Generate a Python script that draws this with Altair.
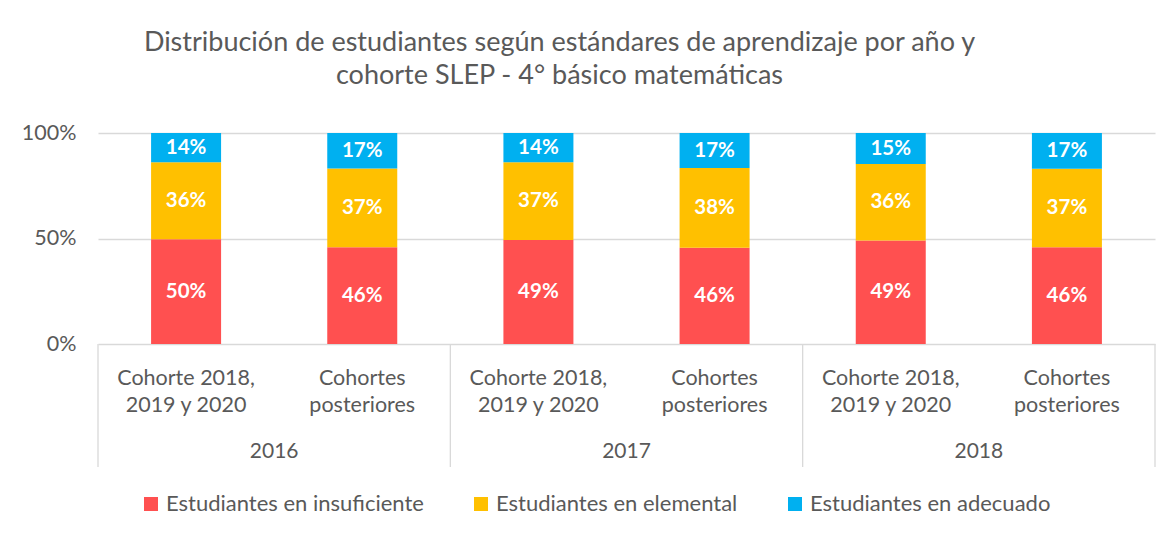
import altair as alt
import pandas as pd

years = ["2016", "2017", "2018"]
cohorts = ["Cohorte 2018,\n2019 y 2020", "Cohortes\nposteriores"]
levels = ["Estudiantes en insuficiente", "Estudiantes en elemental", "Estudiantes en adecuado"]
colors = ["#FF5050", "#FFC000", "#00B0F0"]

# order: 2016 C1, 2016 C2, 2017 C1, 2017 C2, 2018 C1, 2018 C2
insuficiente = [0.497, 0.459, 0.493, 0.456, 0.490, 0.459]
elemental = [0.364, 0.373, 0.368, 0.378, 0.363, 0.371]
adecuado = [0.139, 0.168, 0.139, 0.166, 0.147, 0.170]

rows = []
keys = []
for yi, yr in enumerate(years):
    for ci, co in enumerate(cohorts):
        k = f"{yr}-{ci}"
        keys.append(k)
        idx = yi * 2 + ci
        for li, (lev, vals) in enumerate(zip(levels, [insuficiente, elemental, adecuado])):
            rows.append(dict(key=k, year=yr, cohort=co, level=lev, order=li, value=vals[idx]))
df = pd.DataFrame(rows)
cat_df = df[df.order == 0].reset_index(drop=True)
first_df = cat_df.iloc[::2].reset_index(drop=True)
last_df = cat_df.iloc[[-1]].reset_index(drop=True)

W, H = 1057, 211
FONT = "Lato"
GRAY = "#595959"
LINE = "#D9D9D9"

xscale = alt.Scale(domain=keys, paddingInner=0, paddingOuter=0)


def X(bp=None):
    if bp is None:
        return alt.X("key:N", scale=xscale, sort=keys, axis=None)
    return alt.X("key:N", scale=xscale, sort=keys, axis=None, bandPosition=bp)


yaxis = alt.Axis(values=[0, 0.5, 1], format=".0%", grid=True, gridColor=LINE,
                 gridWidth=1.3, domain=False, ticks=False, labelPadding=22,
                 labelFontSize=21.5, labelColor=GRAY, labelFont=FONT, title=None)

base = alt.Chart(df).transform_stack(
    stack="value", groupby=["key"], as_=["v0", "v1"],
    sort=[alt.SortField("order", order="ascending")]
).transform_calculate(mid="(datum.v0 + datum.v1) / 2")

bars = base.mark_bar(size=70).encode(
    x=X(),
    y=alt.Y("v0:Q", scale=alt.Scale(domain=[0, 1]), axis=yaxis),
    y2="v1:Q",
    color=alt.Color("level:N", scale=alt.Scale(domain=levels, range=colors),
                    legend=alt.Legend(orient="none", legendX=42, legendY=360,
                                      direction="horizontal", title=None,
                                      symbolType="square", symbolSize=196,
                                      symbolStrokeWidth=0, symbolOpacity=1,
                                      labelFontSize=22, labelFont=FONT,
                                      labelColor=GRAY, columnPadding=46,
                                      labelOffset=4, labelLimit=0, padding=0)),
)

labels = base.mark_text(color="white", fontWeight="bold", fontSize=20.5, font=FONT).encode(
    x=X(),
    y=alt.Y("mid:Q", scale=alt.Scale(domain=[0, 1])),
    text=alt.Text("value:Q", format=".0%"),
)

cat_text = alt.Chart(cat_df).mark_text(
    lineBreak="\n", lineHeight=27, baseline="alphabetic", fontSize=21.5,
    color=GRAY, font=FONT
).encode(x=X(), y=alt.value(H + 41), text="cohort:N")

year_text = alt.Chart(first_df).mark_text(
    baseline="alphabetic", fontSize=21, color=GRAY, font=FONT
).encode(x=X(1), y=alt.value(H + 114), text="year:N")

sep_first = alt.Chart(first_df).mark_rule(color=LINE, strokeWidth=1.3).encode(
    x=X(0), y=alt.value(H), y2=alt.value(H + 123))
sep_last = alt.Chart(last_df).mark_rule(color=LINE, strokeWidth=1.3).encode(
    x=X(1), y=alt.value(H), y2=alt.value(H + 123))

chart = alt.layer(bars, labels, cat_text, year_text, sep_first, sep_last).properties(
    width=W, height=H,
    title=alt.TitleParams(
        ["Distribución de estudiantes según estándares de aprendizaje por año y",
         "cohorte SLEP - 4° básico matemáticas"],
        fontSize=27, font=FONT, fontWeight="normal", color=GRAY,
        anchor="middle", frame="group", dx=-67, offset=32, lineHeight=33),
    padding={"left": 90, "top": 125, "right": 11, "bottom": 175},
    autosize=alt.AutoSizeParams(type="none"),
    background="white",
).configure_view(stroke=None)

chart.save("out.html", embed_options={"renderer": "svg", "actions": False})
